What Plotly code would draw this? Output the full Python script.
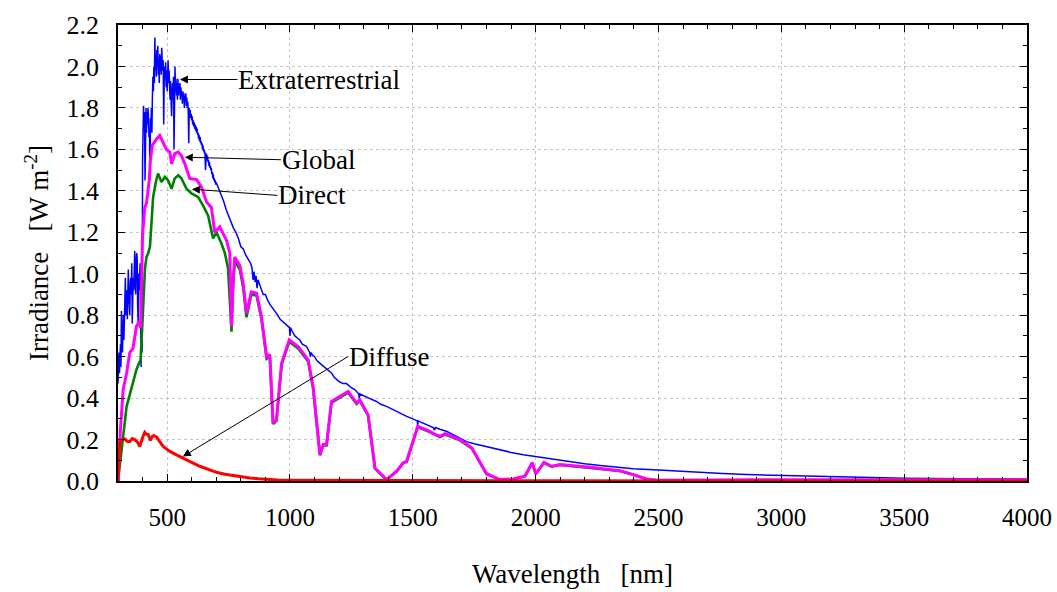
import plotly.graph_objects as go

# ---------------- data ----------------
etr_wl = [300, 302, 304, 306, 308, 310, 312, 314, 316, 318, 320, 322, 324, 326, 328, 330, 332, 334,
          336, 338, 340, 342, 344, 346, 348, 350, 352, 354, 356, 358, 360, 362, 364, 366, 368, 370,
          372, 374, 376, 378, 380, 382, 384, 386, 388, 390, 392, 394, 396, 398, 400,
          402, 404, 406, 408, 410, 412, 414, 416, 418, 420, 422, 424, 426, 428, 430, 432, 434, 436,
          438, 440, 442, 444, 446, 448, 450, 452, 454, 456, 458, 460, 462, 464, 466, 468, 470, 472,
          474, 476, 478, 480, 482, 484, 486, 488, 490, 492, 494, 496, 498, 500, 502, 504, 506, 508,
          510, 512, 514, 516, 518, 520, 522, 524, 526, 528, 530, 532, 534, 536, 538, 540, 542, 544,
          546, 548, 550, 552, 554, 556, 558, 560, 562, 564, 566, 568, 570, 572, 574, 576, 578, 580,
          582, 584, 586, 588, 590, 592, 594, 596, 598, 600, 602, 604, 606, 608, 610, 612, 614, 616,
          618, 620, 622, 624, 626, 628, 630, 632, 634, 636, 638, 640, 642, 644, 646, 648, 650, 652,
          654, 656, 658, 660, 662, 664, 666, 668, 670, 672, 674, 676, 678, 680, 682, 684, 686, 688,
          690, 692, 694, 696, 698, 700,
          710, 720, 730, 740, 750, 760, 770, 780, 790, 800, 810, 820, 830, 840, 845, 850, 854, 858,
          862, 866, 870, 880, 891, 900, 910, 920, 932, 940, 950, 960, 970, 980, 990, 998, 1000, 1002,
          1010, 1020, 1030, 1040, 1050, 1067, 1080, 1083, 1086, 1090, 1100, 1110, 1120, 1130, 1149,
          1160, 1170, 1180, 1190, 1200, 1215, 1230, 1250, 1265, 1280, 1282, 1284, 1300, 1312, 1330,
          1350, 1370, 1393, 1410, 1430, 1450, 1475, 1500, 1518, 1520, 1522, 1530, 1556, 1583, 1588,
          1592, 1610, 1637, 1670, 1700, 1719, 1750, 1800, 1855, 1900, 1950, 2000, 2060, 2126, 2200,
          2262, 2330, 2397, 2500, 2580, 2668, 2760, 2859, 3000, 3150, 3290, 3500, 3750, 4000]
etr_val = [0.47, 0.55, 0.62, 0.52, 0.58, 0.66, 0.55, 0.82, 0.70, 0.62, 0.75, 0.80, 0.68, 0.78, 0.95,
           0.98, 0.80, 0.86, 0.92, 0.78, 0.96, 1.02, 0.90, 0.84, 0.80, 0.96, 0.98, 0.90, 1.05, 0.76,
           0.88, 0.98, 0.92, 1.02, 1.11, 0.95, 0.90, 1.06, 1.10, 1.08, 0.85, 0.75, 1.00, 0.92, 0.98,
           1.05, 0.85, 0.55, 1.00, 0.62, 1.55,
           1.72, 1.81, 1.70, 1.78, 1.45, 1.74, 1.80, 1.68, 1.78, 1.72, 1.80, 1.76, 1.66, 1.70, 1.45,
           1.75, 1.70, 1.80, 1.68, 1.85, 1.95, 1.88, 2.00, 1.92, 2.14, 1.98, 2.06, 1.95, 2.08, 2.00,
           2.10, 1.96, 2.04, 1.92, 2.06, 1.98, 2.05, 1.96, 2.09, 2.02, 1.98, 2.03, 1.72, 1.92, 2.00,
           1.94, 2.02, 1.90, 1.98, 1.88, 1.96, 2.03, 1.92, 1.98, 1.90, 1.84, 1.93, 1.79, 1.76, 1.86,
           1.92, 1.84, 1.95, 1.60, 1.90, 2.00, 1.88, 1.94, 1.86, 1.92, 1.84, 1.94, 1.86, 1.90, 1.88,
           1.92, 1.84, 1.90, 1.86, 1.88, 1.82, 1.88, 1.84, 1.87, 1.80, 1.86, 1.83, 1.87, 1.81, 1.85,
           1.80, 1.83, 1.78, 1.63, 1.80, 1.76, 1.79, 1.75, 1.77, 1.74, 1.76, 1.72, 1.74, 1.71, 1.73,
           1.70, 1.72, 1.69, 1.71, 1.68, 1.70, 1.67, 1.68, 1.65, 1.67, 1.64, 1.66, 1.63, 1.64, 1.62,
           1.63, 1.60, 1.62, 1.59, 1.60, 1.58, 1.59, 1.50, 1.57, 1.58, 1.55, 1.57, 1.54, 1.55, 1.52,
           1.54, 1.51, 1.52, 1.50, 1.51, 1.48, 1.49, 1.46, 1.48, 1.45, 1.46, 1.44, 1.45, 1.43, 1.44,
           1.41, 1.38, 1.35, 1.31, 1.28, 1.25, 1.22, 1.20, 1.17, 1.13, 1.12, 1.09, 1.07, 1.05, 1.03,
           0.97, 1.01, 0.96, 0.99, 0.93, 0.97, 0.94, 0.90, 0.90, 0.87, 0.85, 0.83, 0.82, 0.80, 0.78,
           0.77, 0.76, 0.75, 0.74, 0.70, 0.74, 0.72, 0.70, 0.69, 0.68, 0.66, 0.65, 0.62, 0.60, 0.62,
           0.61, 0.60, 0.58, 0.57, 0.56, 0.545, 0.53, 0.52, 0.50, 0.49, 0.48, 0.47, 0.47, 0.45, 0.44,
           0.42, 0.40, 0.42, 0.41, 0.405, 0.395, 0.385, 0.37, 0.36, 0.35, 0.335, 0.325, 0.312, 0.30,
           0.29, 0.27, 0.29, 0.285, 0.272, 0.258, 0.245, 0.258, 0.25, 0.24, 0.22, 0.20, 0.19, 0.18,
           0.165, 0.152, 0.138, 0.127, 0.118, 0.105, 0.095, 0.083, 0.075, 0.066, 0.059, 0.053, 0.047,
           0.041, 0.036, 0.031, 0.027, 0.021, 0.016, 0.013, 0.011, 0.009]

glob_wl = [300, 305, 310, 321, 335, 348, 361, 375, 386, 392, 400, 409, 416, 427, 432, 440, 450, 457,
           470, 484, 497, 511, 518, 531, 545, 558, 572, 592, 620, 640, 660, 680, 694, 714, 742, 755,
           762, 768, 775, 796, 810, 823, 843, 864, 884, 905, 918, 931, 945, 966, 997, 1033, 1074,
           1094, 1115, 1122, 1135, 1149, 1169, 1237, 1271, 1284, 1318, 1346, 1393, 1434, 1461, 1475,
           1520, 1569, 1590, 1610, 1631, 1692, 1740, 1800, 1855, 1909, 1956, 1986, 2001, 2034, 2065,
           2099, 2221, 2343, 2397, 2452, 2493, 2600, 3000, 3500, 4000]
glob_val = [0.0, 0.12, 0.25, 0.44, 0.52, 0.62, 0.64, 0.745, 0.77, 0.737, 1.19, 1.32, 1.34, 1.45,
            1.55, 1.62, 1.64, 1.65, 1.667, 1.635, 1.60, 1.587, 1.53, 1.58, 1.587, 1.57, 1.53, 1.46,
            1.454, 1.418, 1.347, 1.32, 1.20, 1.226, 1.16, 1.10, 0.745, 0.95, 1.08, 1.04, 0.95, 0.81,
            0.913, 0.906, 0.793, 0.60, 0.61, 0.28, 0.296, 0.569, 0.681, 0.649, 0.585, 0.456, 0.184,
            0.127, 0.176, 0.176, 0.384, 0.432, 0.376, 0.392, 0.32, 0.063, 0.007, 0.047, 0.088, 0.095,
            0.264, 0.24, 0.225, 0.216, 0.228, 0.20, 0.16, 0.035, 0.007, 0.01, 0.023, 0.088, 0.035,
            0.09, 0.071, 0.079, 0.066, 0.05, 0.031, 0.01, 0.004, 0.005, 0.006, 0.006, 0.006]

dir_wl = [300, 310, 321, 335, 348, 361, 375, 386, 392, 400, 405, 410, 416, 423, 430, 436, 443, 454,
          463, 477, 491, 504, 518, 531, 545, 558, 579, 599, 626, 646, 667, 687, 701, 721, 735, 748,
          762, 768, 775, 796, 810, 823, 843, 864, 884, 905, 918, 931, 945, 966, 997, 1033, 1074,
          1094, 1115, 1122, 1135, 1149, 1169, 1237, 1271, 1284, 1318, 1346, 1393, 1434, 1461, 1475,
          1520, 1569, 1610, 1631, 1692, 1740, 1800, 1855, 1909, 1956, 1986, 2001, 2034, 2065, 2099,
          2221, 2343, 2397, 2452, 2493, 4000]
dir_val = [0.0, 0.12, 0.215, 0.36, 0.42, 0.47, 0.537, 0.569, 0.585, 0.78, 0.95, 1.03, 1.08, 1.10,
           1.13, 1.27, 1.37, 1.443, 1.483, 1.443, 1.467, 1.45, 1.41, 1.46, 1.475, 1.46, 1.41, 1.387,
           1.37, 1.33, 1.28, 1.17, 1.20, 1.146, 1.10, 1.026, 0.72, 0.93, 1.06, 1.02, 0.93, 0.79,
           0.90, 0.895, 0.78, 0.59, 0.60, 0.275, 0.29, 0.56, 0.672, 0.64, 0.577, 0.45, 0.18, 0.124,
           0.172, 0.172, 0.378, 0.426, 0.371, 0.387, 0.315, 0.061, 0.006, 0.045, 0.086, 0.093, 0.26,
           0.236, 0.212, 0.224, 0.196, 0.157, 0.034, 0.006, 0.009, 0.022, 0.086, 0.034, 0.088, 0.069,
           0.077, 0.064, 0.048, 0.03, 0.009, 0.003, 0.005]

diff_wl = [300, 304, 307, 318, 328, 338, 348, 358, 368, 378, 389, 400, 409, 416, 423, 432, 440, 446,
           457, 470, 484, 497, 511, 540, 565, 600, 633, 670, 701, 735, 769, 800, 837, 870, 905, 950,
           1000, 1100, 1200, 1500, 2000, 2500, 3000, 4000]
diff_val = [0.0, 0.12, 0.19, 0.20, 0.203, 0.19, 0.19, 0.205, 0.20, 0.19, 0.167, 0.21, 0.235, 0.225,
            0.224, 0.196, 0.215, 0.219, 0.213, 0.19, 0.167, 0.155, 0.143, 0.125, 0.112, 0.09, 0.071,
            0.055, 0.042, 0.033, 0.026, 0.021, 0.015, 0.011, 0.007, 0.005, 0.004, 0.003, 0.002,
            0.002, 0.001, 0.001, 0.0, 0.0]

x_ticks = [500, 1000, 1500, 2000, 2500, 3000, 3500, 4000]
y_ticks = [0.0, 0.2, 0.4, 0.6, 0.8, 1.0, 1.2, 1.4, 1.6, 1.8, 2.0, 2.2]

# annotation labels: (text, text_x, text_y (left-middle of the label), arrow head x, arrow head y)
labels = [
    ("Extraterrestrial", 786, 1.937, 552, 1.937),
    ("Global", 963, 1.55, 572, 1.562),
    ("Direct", 949, 1.378, 601, 1.408),
    ("Diffuse", 1236, 0.60, 564, 0.118),
]

FONT = "Liberation Serif"

fig = go.Figure()
fig.add_trace(go.Scatter(x=etr_wl, y=etr_val, mode="lines", name="Extraterrestrial",
                         line=dict(color="#0000ff", width=1.5)))
fig.add_trace(go.Scatter(x=dir_wl, y=dir_val, mode="lines", name="Direct",
                         line=dict(color="#008000", width=2.6)))
fig.add_trace(go.Scatter(x=glob_wl, y=glob_val, mode="lines", name="Global",
                         line=dict(color="#ff00ff", width=3)))
fig.add_trace(go.Scatter(x=diff_wl, y=diff_val, mode="lines", name="Diffuse",
                         line=dict(color="#ff0000", width=3)))

for text, tx, ty, hx, hy in labels:
    fig.add_annotation(x=hx, y=hy, ax=tx, ay=ty, xref="x", yref="y", axref="x", ayref="y",
                       text=text, showarrow=True, arrowhead=2, arrowsize=1.6, arrowwidth=1,
                       arrowcolor="black", standoff=0, startstandoff=0,
                       xanchor="left", yanchor="middle", borderpad=0,
                       font=dict(family=FONT, size=27, color="black"))

axis_common = dict(
    showline=True, linecolor="black", linewidth=1.5, mirror="allticks",
    ticks="inside", ticklen=7, tickwidth=1.2, tickcolor="black",
    showgrid=True, gridcolor="#c4c4c4", griddash="dot", gridwidth=1,
    zeroline=False,
)

fig.update_xaxes(range=[300, 4000], tickmode="array", tickvals=x_ticks,
                 ticktext=[str(v) for v in x_ticks],
                 minor=dict(dtick=100, tick0=0, ticks="inside", ticklen=4, tickcolor="black",
                            showgrid=False),
                 tickfont=dict(family=FONT, size=25, color="black"), ticklabelstandoff=13,
                 title=dict(text="Wavelength   [nm]", font=dict(family=FONT, size=27, color="black"),
                            standoff=34),
                 **axis_common)
fig.update_yaxes(range=[0, 2.2], tickmode="array", tickvals=y_ticks,
                 ticktext=[f"{v:.1f}" for v in y_ticks],
                 minor=dict(dtick=0.1, tick0=0, ticks="inside", ticklen=4, tickcolor="black",
                            showgrid=False),
                 tickfont=dict(family=FONT, size=26, color="black"), ticklabelstandoff=12,
                 title=dict(text="Irradiance   [W m<sup>-2</sup>]",
                            font=dict(family=FONT, size=27, color="black"), standoff=10),
                 **axis_common)

fig.update_layout(
    width=1057, height=592,
    margin=dict(l=118, r=30, t=25, b=111, autoexpand=False),
    paper_bgcolor="white", plot_bgcolor="white",
    showlegend=False,
    font=dict(family=FONT, color="black"),
)

fig.write_html("out.html")
